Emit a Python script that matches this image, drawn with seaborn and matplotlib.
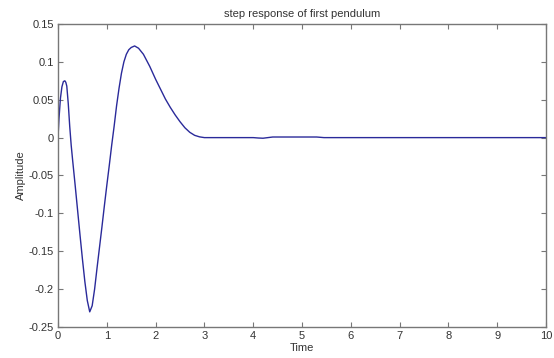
import matplotlib
matplotlib.use("Agg")
import seaborn as sns
import matplotlib.pyplot as plt

# values
time = [0.0, 0.02, 0.05, 0.08, 0.11, 0.14, 0.16, 0.18, 0.21, 0.24, 0.27, 0.30,
        0.35, 0.40, 0.45, 0.50, 0.55, 0.60, 0.65, 0.70, 0.75, 0.80, 0.85, 0.90,
        0.95, 1.00, 1.05, 1.10, 1.15, 1.20, 1.25, 1.30, 1.35, 1.40, 1.45, 1.50,
        1.57, 1.65, 1.75, 1.88, 2.00, 2.10, 2.20, 2.30, 2.40, 2.50, 2.60, 2.70,
        2.80, 2.90, 3.00, 4.00, 4.10, 4.20, 4.30, 4.40, 5.30, 5.45, 10.0]
amplitude = [0.0, 0.025, 0.052, 0.067, 0.074, 0.075, 0.073, 0.068, 0.045, 0.015,
             -0.010, -0.030, -0.062, -0.095, -0.128, -0.160, -0.190, -0.215,
             -0.230, -0.222, -0.200, -0.172, -0.145, -0.118, -0.090, -0.063,
             -0.037, -0.010, 0.015, 0.042, 0.065, 0.085, 0.100, 0.110, 0.116,
             0.119, 0.121, 0.118, 0.110, 0.094, 0.077, 0.064, 0.051, 0.040,
             0.030, 0.021, 0.013, 0.007, 0.003, 0.001, 0.0, 0.0, -0.0005,
             -0.0008, 0.0, 0.0008, 0.0008, 0.0, 0.0]

xticks = list(range(0, 11))
yticks = [0.15, 0.1, 0.05, 0, -0.05, -0.1, -0.15, -0.2, -0.25]
ytick_labels = ['0.15', '0.1', '0.05', '0', '-0.05', '-0.1', '-0.15', '-0.2', '-0.25']

sns.set_style('white')
plt.rcParams['font.family'] = ['Liberation Sans', 'DejaVu Sans']

fig = plt.figure(figsize=(5.54, 3.58), dpi=100)
ax = fig.add_axes([0.1047, 0.0866, 0.881, 0.8464])

sns.lineplot(x=time, y=amplitude, ax=ax, sort=False, estimator=None,
             color='#2a2a9a', linewidth=1.0)

ax.set_xlim(0, 10)
ax.set_ylim(-0.25, 0.15)
ax.set_xticks(xticks)
ax.set_xticklabels([str(t) for t in xticks])
ax.set_yticks(yticks)
ax.set_yticklabels(ytick_labels)

axis_grey = '#777777'
for side in ['top', 'right', 'bottom', 'left']:
    ax.spines[side].set_visible(True)
    ax.spines[side].set_color(axis_grey)
    ax.spines[side].set_linewidth(1.0)
ax.tick_params(direction='in', length=3.5, width=0.8, color=axis_grey,
               labelsize=8, labelcolor='#333333', top=True, right=True,
               bottom=True, left=True, pad=3)

ax.set_title('step response of first pendulum', fontsize=8, color='#333333', pad=5)
ax.set_xlabel('Time', fontsize=8, color='#333333', labelpad=1)
ax.set_ylabel('Amplitude', fontsize=8, color='#333333', labelpad=2)

fig.savefig('out.png', dpi=100)
